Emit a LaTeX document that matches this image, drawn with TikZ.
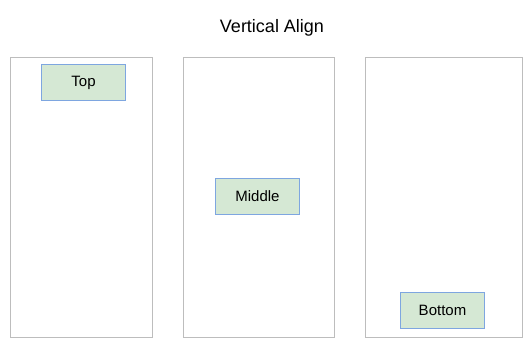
\documentclass[tikz,border=0pt]{standalone}
\usepackage{fontspec}
\setmainfont{Liberation Sans}
\usepackage{xcolor}
\usetikzlibrary{positioning}
\definecolor{colline}{HTML}{BDBDBD}
\definecolor{itemfill}{HTML}{D5E8D4}
\definecolor{itemline}{HTML}{7EA6E0}

\begin{document}
\begin{tikzpicture}[x=1pt, y=1pt, font=\fontsize{15}{18}\selectfont,
  column/.style={draw=colline, line width=1pt, outer sep=0pt, minimum height=280pt},
  item/.style={draw=itemline, fill=itemfill, line width=1pt, outer sep=0pt, minimum width=84pt, minimum height=36pt, inner sep=0pt}]
  \useasboundingbox (0,0) rectangle (532,348);
  \node[font=\fontsize{18}{21}\selectfont] (title) at (272,320) {Vertical Align};

  \node[column, minimum width=142pt] (c1) at (81.5,150.5) {};
  \node[column, minimum width=151pt] (c2) at (259,150.5) {};
  \node[column, minimum width=157pt] (c3) at (444,150.5) {};

  \node[item, below=7pt of c1.north, xshift=2pt] (top) {Top};
  \node[item, xshift=-1.5pt, yshift=1pt] (mid) at (c2.center) {Middle};
  \node[item, above=9pt of c3.south, xshift=-1.5pt] (bot) {Bottom};
\end{tikzpicture}
\end{document}
